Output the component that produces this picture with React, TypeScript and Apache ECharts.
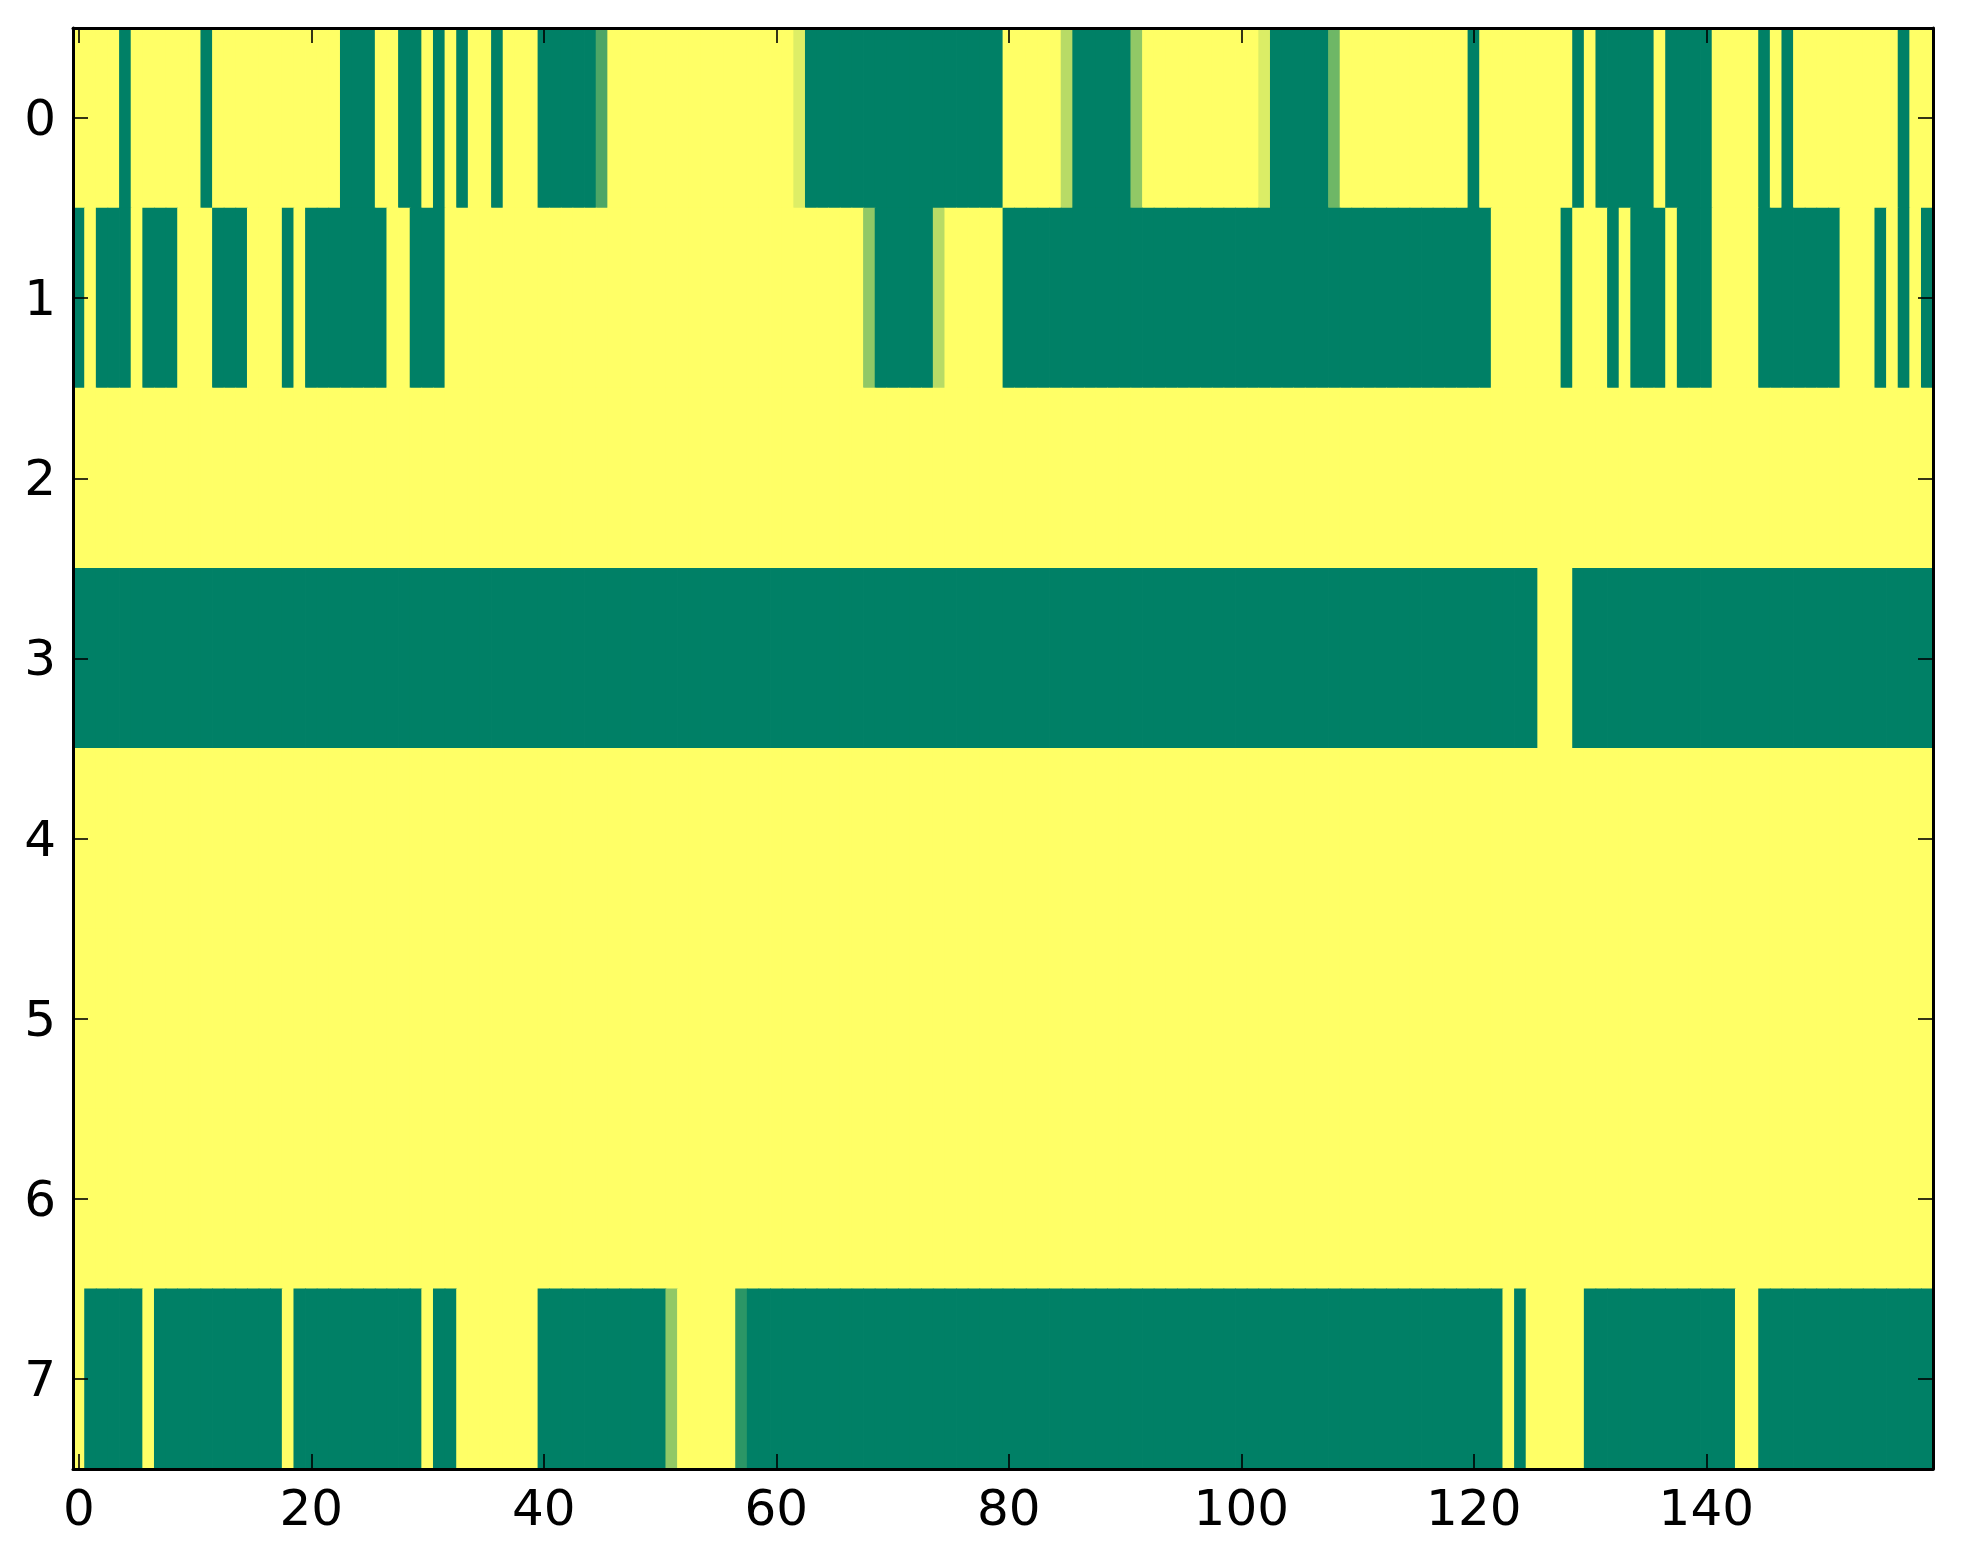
import React, { useEffect, useRef } from "react";
import * as echarts from "echarts";

// Column indices 0..159 and row indices 0..7
const xCategories: string[] = Array.from({ length: 160 }, (_, i) => String(i));
const yCategories: string[] = ["0", "1", "2", "3", "4", "5", "6", "7"];

// cell values: 0 = yellow, 1 = green (summer_r colormap)
const row0 = [
  0,0,0,0,1,0,0,0,0,0,0,1,0,0,0,0,0,0,0,0,
  0,0,0,1,1,1,0,0,1,1,0,1,0,1,0,0,1,0,0,0,
  1,1,1,1,1,0.7,0,0,0,0,0,0,0,0,0,0,0,0,0,0,
  0,0,0.13,1,1,1,1,1,1,1,1,1,1,1,1,1,1,1,1,1,
  0,0,0,0,0,0.28,1,1,1,1,1,0.43,0,0,0,0,0,0,0,0,
  0,0,0.14,1,1,1,1,1,0.57,0,0,0,0,0,0,0,0,0,0,0,
  1,0,0,0,0,0,0,0,0,1,0,1,1,1,1,1,0,1,1,1,
  1,0,0,0,0,1,0,1,0,0,0,0,0,0,0,0,0,1,0,0,
];
const row1 = [
  1,0,1,1,1,0,1,1,1,0,0,0,1,1,1,0,0,0,1,0,
  1,1,1,1,1,1,1,0,0,1,1,1,0,0,0,0,0,0,0,0,
  0,0,0,0,0,0,0,0,0,0,0,0,0,0,0,0,0,0,0,0,
  0,0,0,0,0,0,0,0,0.43,1,1,1,1,1,0.28,0,0,0,0,0,
  1,1,1,1,1,1,1,1,1,1,1,1,1,1,1,1,1,1,1,1,
  1,1,1,1,1,1,1,1,1,1,1,1,1,1,1,1,1,1,1,1,
  1,1,0,0,0,0,0,0,1,0,0,0,1,0,1,1,1,0,1,1,
  1,0,0,0,0,1,1,1,1,1,1,1,0,0,0,1,0,1,0,1,
];
const row2 = [
  0,0,0,0,0,0,0,0,0,0,0,0,0,0,0,0,0,0,0,0,
  0,0,0,0,0,0,0,0,0,0,0,0,0,0,0,0,0,0,0,0,
  0,0,0,0,0,0,0,0,0,0,0,0,0,0,0,0,0,0,0,0,
  0,0,0,0,0,0,0,0,0,0,0,0,0,0,0,0,0,0,0,0,
  0,0,0,0,0,0,0,0,0,0,0,0,0,0,0,0,0,0,0,0,
  0,0,0,0,0,0,0,0,0,0,0,0,0,0,0,0,0,0,0,0,
  0,0,0,0,0,0,0,0,0,0,0,0,0,0,0,0,0,0,0,0,
  0,0,0,0,0,0,0,0,0,0,0,0,0,0,0,0,0,0,0,0,
];
const row3 = [
  1,1,1,1,1,1,1,1,1,1,1,1,1,1,1,1,1,1,1,1,
  1,1,1,1,1,1,1,1,1,1,1,1,1,1,1,1,1,1,1,1,
  1,1,1,1,1,1,1,1,1,1,1,1,1,1,1,1,1,1,1,1,
  1,1,1,1,1,1,1,1,1,1,1,1,1,1,1,1,1,1,1,1,
  1,1,1,1,1,1,1,1,1,1,1,1,1,1,1,1,1,1,1,1,
  1,1,1,1,1,1,1,1,1,1,1,1,1,1,1,1,1,1,1,1,
  1,1,1,1,1,1,0,0,0,1,1,1,1,1,1,1,1,1,1,1,
  1,1,1,1,1,1,1,1,1,1,1,1,1,1,1,1,1,1,1,1,
];
const row4 = [
  0,0,0,0,0,0,0,0,0,0,0,0,0,0,0,0,0,0,0,0,
  0,0,0,0,0,0,0,0,0,0,0,0,0,0,0,0,0,0,0,0,
  0,0,0,0,0,0,0,0,0,0,0,0,0,0,0,0,0,0,0,0,
  0,0,0,0,0,0,0,0,0,0,0,0,0,0,0,0,0,0,0,0,
  0,0,0,0,0,0,0,0,0,0,0,0,0,0,0,0,0,0,0,0,
  0,0,0,0,0,0,0,0,0,0,0,0,0,0,0,0,0,0,0,0,
  0,0,0,0,0,0,0,0,0,0,0,0,0,0,0,0,0,0,0,0,
  0,0,0,0,0,0,0,0,0,0,0,0,0,0,0,0,0,0,0,0,
];
const row5 = [
  0,0,0,0,0,0,0,0,0,0,0,0,0,0,0,0,0,0,0,0,
  0,0,0,0,0,0,0,0,0,0,0,0,0,0,0,0,0,0,0,0,
  0,0,0,0,0,0,0,0,0,0,0,0,0,0,0,0,0,0,0,0,
  0,0,0,0,0,0,0,0,0,0,0,0,0,0,0,0,0,0,0,0,
  0,0,0,0,0,0,0,0,0,0,0,0,0,0,0,0,0,0,0,0,
  0,0,0,0,0,0,0,0,0,0,0,0,0,0,0,0,0,0,0,0,
  0,0,0,0,0,0,0,0,0,0,0,0,0,0,0,0,0,0,0,0,
  0,0,0,0,0,0,0,0,0,0,0,0,0,0,0,0,0,0,0,0,
];
const row6 = [
  0,0,0,0,0,0,0,0,0,0,0,0,0,0,0,0,0,0,0,0,
  0,0,0,0,0,0,0,0,0,0,0,0,0,0,0,0,0,0,0,0,
  0,0,0,0,0,0,0,0,0,0,0,0,0,0,0,0,0,0,0,0,
  0,0,0,0,0,0,0,0,0,0,0,0,0,0,0,0,0,0,0,0,
  0,0,0,0,0,0,0,0,0,0,0,0,0,0,0,0,0,0,0,0,
  0,0,0,0,0,0,0,0,0,0,0,0,0,0,0,0,0,0,0,0,
  0,0,0,0,0,0,0,0,0,0,0,0,0,0,0,0,0,0,0,0,
  0,0,0,0,0,0,0,0,0,0,0,0,0,0,0,0,0,0,0,0,
];
const row7 = [
  0,1,1,1,1,1,0,1,1,1,1,1,1,1,1,1,1,1,0,1,
  1,1,1,1,1,1,1,1,1,1,0,1,1,0,0,0,0,0,0,0,
  1,1,1,1,1,1,1,1,1,1,1,0.43,0,0,0,0,0,0.83,1,1,
  1,1,1,1,1,1,1,1,1,1,1,1,1,1,1,1,1,1,1,1,
  1,1,1,1,1,1,1,1,1,1,1,1,1,1,1,1,1,1,1,1,
  1,1,1,1,1,1,1,1,1,1,1,1,1,1,1,1,1,1,1,1,
  1,1,1,0,1,0,0,0,0,0,1,1,1,1,1,1,1,1,1,1,
  1,1,1,0,0,1,1,1,1,1,1,1,1,1,1,1,1,1,1,1,
];

const rows = [row0, row1, row2, row3, row4, row5, row6, row7];

const FONT = "DejaVu Sans";
const TICK_EVERY = 20;

export default function App() {
  const ref = useRef<HTMLDivElement>(null);

  useEffect(() => {
    if (!ref.current) return;
    const chart = echarts.init(ref.current, undefined, { renderer: "svg" });

    const data: [number, number, number][] = [];
    rows.forEach((row, y) => row.forEach((v, x) => data.push([x, y, v])));

    const tickFn = (index: number) => index % TICK_EVERY === 0;

    const xBase = {
      type: "category" as const,
      data: xCategories,
      z: 10,
      axisLine: { show: true, onZero: false, lineStyle: { color: "#000", width: 3 } },
      axisTick: {
        show: true,
        inside: true,
        length: 15,
        alignWithLabel: true,
        interval: tickFn,
        lineStyle: { color: "#000", width: 1.6 },
      },
      splitLine: { show: false },
    };
    const yBase = {
      type: "category" as const,
      data: yCategories,
      inverse: true,
      z: 10,
      axisLine: { show: true, onZero: false, lineStyle: { color: "#000", width: 3 } },
      axisTick: {
        show: true,
        inside: true,
        length: 15,
        alignWithLabel: true,
        lineStyle: { color: "#000", width: 1.6 },
      },
      splitLine: { show: false },
    };

    chart.setOption({
      animation: false,
      backgroundColor: "#ffffff",
      grid: { left: 65, top: 20, width: 1860, height: 1441, containLabel: false },
      xAxis: [
        {
          ...xBase,
          position: "bottom",
          axisLabel: {
            show: true,
            interval: tickFn,
            fontSize: 50,
            fontFamily: FONT,
            color: "#000",
            margin: 14,
          },
        },
        { ...xBase, position: "top", axisLabel: { show: false } },
      ],
      yAxis: [
        {
          ...yBase,
          position: "left",
          axisLabel: {
            show: true,
            fontSize: 50,
            fontFamily: FONT,
            color: "#000",
            margin: 17,
          },
        },
        { ...yBase, position: "right", axisLabel: { show: false } },
      ],
      visualMap: {
        show: false,
        type: "continuous",
        min: 0,
        max: 1,
        dimension: 2,
        seriesIndex: 0,
        inRange: { color: ["#ffff66", "#008066"] },
      },
      series: [
        {
          type: "custom",
          xAxisIndex: 0,
          yAxisIndex: 0,
          coordinateSystem: "cartesian2d",
          encode: { x: 0, y: 1 },
          clip: true,
          silent: true,
          data,
          renderItem: (params: any, api: any) => {
            const c = api.coord([api.value(0), api.value(1)]);
            const s = api.size([1, 1]);
            return {
              type: "rect",
              shape: {
                x: c[0] - s[0] / 2 - 0.4,
                y: c[1] - s[1] / 2 - 0.4,
                width: s[0] + 0.8,
                height: s[1] + 0.8,
              },
              style: { fill: api.visual("color") },
            };
          },
        },
      ],
    });

    return () => chart.dispose();
  }, []);

  return <div ref={ref} style={{ width: 1947, height: 1540 }} />;
}
